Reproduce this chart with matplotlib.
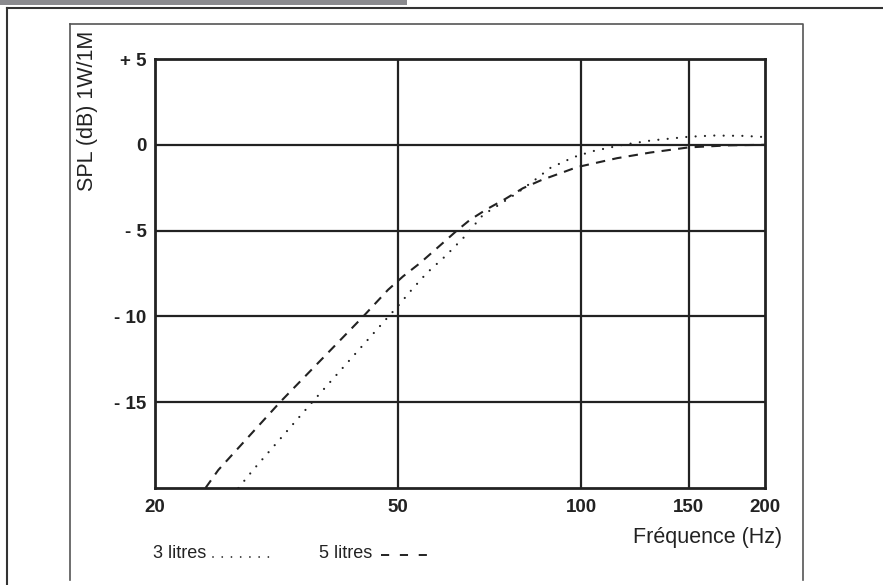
import numpy as np
import matplotlib
matplotlib.use("Agg")
import matplotlib.pyplot as plt
from matplotlib.lines import Line2D
from matplotlib.patches import Rectangle
from matplotlib.ticker import FixedLocator, NullLocator

plt.rcParams['font.family'] = ['Liberation Sans', 'DejaVu Sans']

# 3 litres (pointillé)
freq_3l = [27.4, 28.96, 36.2, 48.3, 49.9, 52.4, 55.8, 59.8, 64.0, 69.0, 72.5,
           78.4, 84.6, 88.8, 94.7, 98.4, 105, 117, 130, 150, 165, 185, 200]
spl_3l = [-20, -18.95, -15, -10, -9.45, -8.55, -7.47, -6.5, -5.44, -4.08, -3.6,
          -2.82, -1.95, -1.36, -0.9, -0.65, -0.35, 0.0, 0.25, 0.47, 0.54, 0.52, 0.45]

# 5 litres (tirets)
freq_5l = [24.2, 25.4, 32.06, 43.9, 48.2, 51.0, 54.4, 58.0, 62.5, 65.7, 70.0,
           75.0, 80.2, 86.2, 93.0, 98.4, 114.4, 129.8, 150, 175, 200]
spl_5l = [-20, -18.95, -15, -10, -8.45, -7.67, -6.89, -6.02, -5.0, -4.37, -3.75,
          -3.16, -2.53, -2.04, -1.62, -1.3, -0.78, -0.45, -0.15, -0.03, 0.0]

x_ticks = [20, 50, 100, 150, 200]
y_ticks = [5, 0, -5, -10, -15]
y_tick_labels = ['+ 5', '0', '- 5', '- 10', '- 15']

W, H = 883, 585
DOTS = (0, (0.01, 4.2))
DASHES = (0, (4.5, 3.5))


def fx(x):
    return x / W


def fy(y):
    return 1 - y / H


fig = plt.figure(figsize=(W / 100, H / 100), dpi=100)
ax = fig.add_axes([fx(155), fy(488), fx(765) - fx(155), fy(59) - fy(488)])

ax.plot(freq_3l, spl_3l, color='#222222', lw=1.6, linestyle=DOTS,
        dash_capstyle='round')
ax.plot(freq_5l, spl_5l, color='#222222', lw=1.5, linestyle=DASHES,
        dash_capstyle='butt')

ax.set_xscale('log')
ax.set_xlim(20, 200)
ax.set_ylim(-20, 5)
ax.xaxis.set_major_locator(FixedLocator(x_ticks))
ax.xaxis.set_minor_locator(NullLocator())
ax.set_xticklabels([str(t) for t in x_ticks])
ax.set_yticks(y_ticks)
ax.set_yticklabels(y_tick_labels)
ax.tick_params(length=0, labelsize=13.5, colors='#222222')
ax.tick_params(axis='x', pad=8)
ax.tick_params(axis='y', pad=6)
for lab in ax.get_xticklabels() + ax.get_yticklabels():
    lab.set_fontweight('bold')

for v in [50, 100, 150]:
    ax.axvline(v, color='#222222', lw=1.6)
for v in [0, -5, -10, -15]:
    ax.axhline(v, color='#222222', lw=1.6)
for s in ax.spines.values():
    s.set_linewidth(2)
    s.set_color('#222222')

fig.text(fx(88), fy(111), 'SPL (dB) 1W/1M', rotation=90, ha='center',
         va='center', fontsize=15.5, color='#222222')
fig.text(fx(782), fy(537), 'Fréquence (Hz)', ha='right', va='center',
         fontsize=15.5, color='#222222')

# légende
fig.text(fx(153), fy(553), '3 litres', ha='left', va='center', fontsize=13,
         color='#222222')
fig.add_artist(Line2D([fx(213), fx(272)], [fy(557), fy(557)],
                      transform=fig.transFigure, color='#222222', lw=1.3,
                      linestyle=(0, (0.01, 5.1)), dash_capstyle='round'))
fig.text(fx(319), fy(553), '5 litres', ha='left', va='center', fontsize=13,
         color='#222222')
fig.add_artist(Line2D([fx(381), fx(434)], [fy(555), fy(555)],
                      transform=fig.transFigure, color='#222222', lw=1.4,
                      linestyle=(0, (4.2, 5.5)), dash_capstyle='butt'))

# bandeau gris et cadres
fig.add_artist(Rectangle((0, fy(5)), fx(407), 1 - fy(5), transform=fig.transFigure,
                         color='#8a8a8e', lw=0))
fig.add_artist(Line2D([fx(7), 1], [fy(8), fy(8)], transform=fig.transFigure,
                      color='#333333', lw=1.5))
fig.add_artist(Line2D([fx(7), fx(7)], [fy(8), 0], transform=fig.transFigure,
                      color='#333333', lw=1.5))
fig.add_artist(Line2D([fx(70), fx(803), fx(803)], [fy(24), fy(24), fy(580)],
                      transform=fig.transFigure, color='#555555', lw=1.2))
fig.add_artist(Line2D([fx(70), fx(70)], [fy(24), fy(580)],
                      transform=fig.transFigure, color='#555555', lw=1.2))

fig.savefig('out.png', dpi=100)
